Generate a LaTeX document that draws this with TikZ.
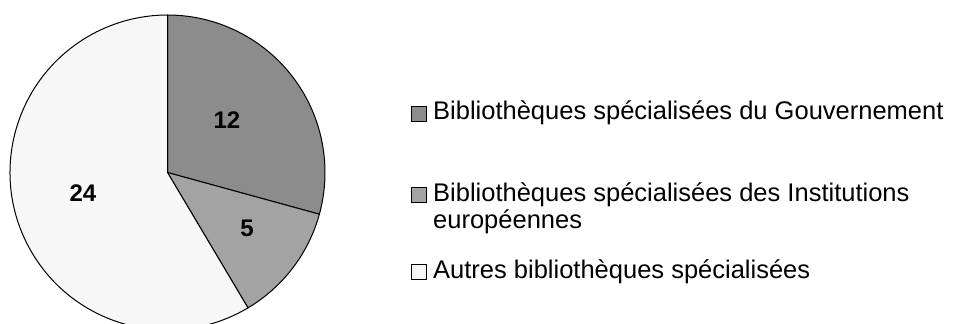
\documentclass[tikz,border=0pt]{standalone}
\usepackage{fontspec}
\setmainfont{Liberation Sans}
\begin{document}
\begin{tikzpicture}[x=1pt,y=1pt,
  slice/.style={draw=black,line width=1pt,line join=round},
  val/.style={font=\fontsize{24}{28}\selectfont\bfseries,inner sep=0pt},
  legbox/.style={draw=black,line width=0.9pt,minimum size=15pt,inner sep=0pt},
  legtext/.style={font=\fontsize{25.5}{28}\selectfont,inner sep=0pt,anchor=base west}]
\useasboundingbox (0,0) rectangle (954,324);
\clip (0,0) rectangle (954,324);
\coordinate (c) at (167.5,151.5);
\def\R{157.5}
% slices
\filldraw[slice,fill=black!45] (c) -- ++(90:\R) arc[start angle=90,end angle=-15.366,radius=\R] -- cycle;
\filldraw[slice,fill=black!36] (c) -- ++(-15.366:\R) arc[start angle=-15.366,end angle=-59.268,radius=\R] -- cycle;
\filldraw[slice,fill=black!3] (c) -- ++(-59.268:\R) arc[start angle=-59.268,end angle=-270,radius=\R] -- cycle;
% values
\node[val] (v12) at (227,204) {12};
\node[val] (v5) at (247,96) {5};
\node[val] (v24) at (83,131) {24};
% legend
\node[legbox,fill=black!45] (b1) at (419,210) {};
\node[legtext] (t1) at (433,204) {Bibliothèques spécialisées du Gouvernement};
\node[legbox,fill=black!36] (b2) at (419,129.5) {};
\node[legtext] (t2) at (433,122.5) {Bibliothèques spécialisées des Institutions};
\node[legtext] (t2b) at ([yshift=-27pt]t2.base west) {européennes};
\node[legbox,fill=black!3] (b3) at (419,52) {};
\node[legtext] (t3) at (433,45.5) {Autres bibliothèques spécialisées};
\end{tikzpicture}
\end{document}
